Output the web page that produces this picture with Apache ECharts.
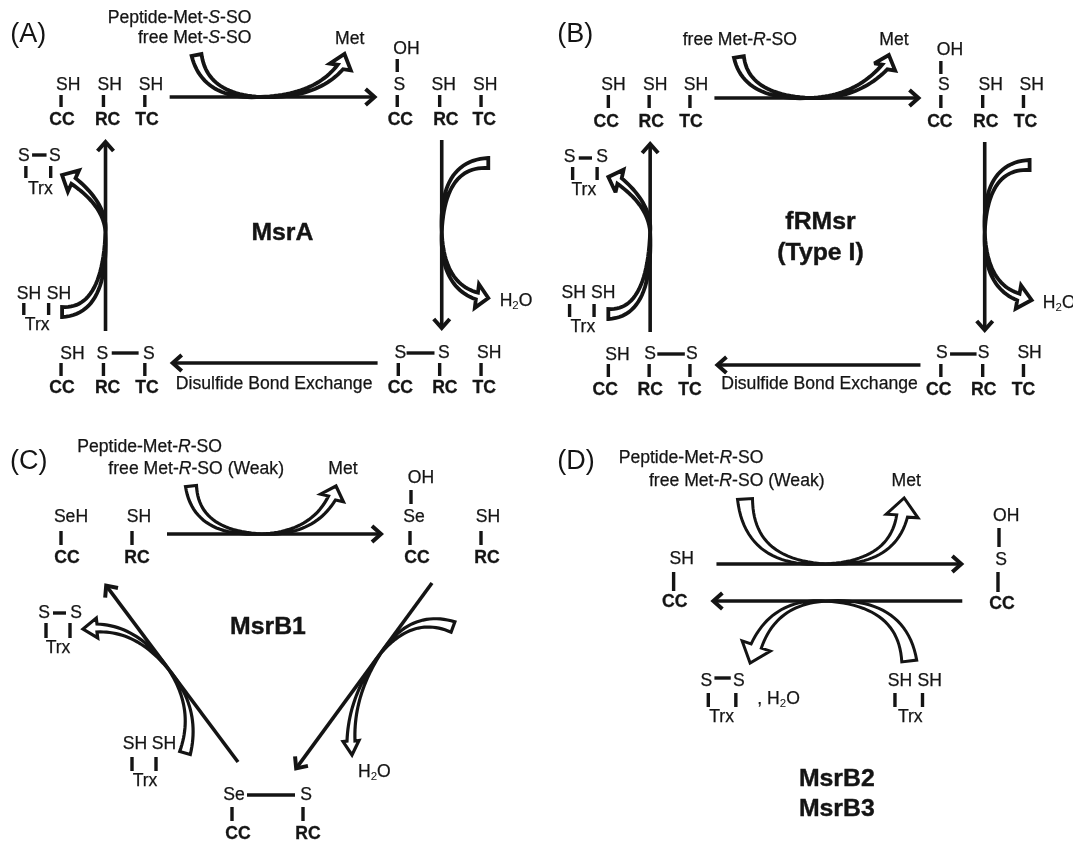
<!DOCTYPE html>
<html><head><meta charset="utf-8">
<style>html,body{margin:0;padding:0;background:#fff}#c{width:1073px;height:844px}</style>
<script src="https://cdn.jsdelivr.net/npm/echarts@6/dist/echarts.min.js"></script>
</head><body><div id="c"></div>
<script>
const H2O = '{r|H}{s|2}{r|O}';
// [x, y, text, kind, align]  kind: t regular, b bold, l large bold, p panel letter
const labelsA = [
 [10,35,'(A)','p','left'],[243,18,'Peptide-Met-{i|S}{r|-SO}','t','right'],[243,38,'free Met-{i|S}{r|-SO}','t','right'],[338,39,'Met','t'],
 [66,85,'SH','t'],[106,85,'SH','t'],[146,85,'SH','t'],[60,120,'CC','b'],[104,120,'RC','b'],[142,120,'TC','b'],
 [393,49,'OH','t'],[386,85,'S','t'],[429,85,'SH','t'],[469,85,'SH','t'],[387,120,'CC','b'],[431,120,'RC','b'],[468,120,'TC','b'],
 [23,156,'S','t'],[53,156,'S','t'],[39,189,'Trx','t'],[28,294,'SH','t'],[57,294,'SH','t'],[36,325,'Trx','t'],
 [483,301,H2O,'t','left'],[273,233,'MsrA','l'],
 [70,354,'SH','t'],[99,354,'S','t'],[144,354,'S','t'],[60,388,'CC','b'],[104,388,'RC','b'],[142,388,'TC','b'],
 [265,384,'Disulfide Bond Exchange','t'],
 [387,353,'S','t'],[429,353,'S','t'],[473,353,'SH','t'],[387,388,'CC','b'],[430,388,'RC','b'],[468,388,'TC','b']
];
const labelsB = [
 [557,35,'(B)','p','left'],[792,40,'free Met-{i|R}{r|-SO}','t','right'],[887,40,'Met','t'],
 [612,85,'SH','t'],[653,85,'SH','t'],[693,85,'SH','t'],[605,122,'CC','b'],[649,122,'RC','b'],[688,122,'TC','b'],
 [942,50,'OH','t'],[936,85,'S','t'],[982,85,'SH','t'],[1022,85,'SH','t'],[932,122,'CC','b'],[977,122,'RC','b'],[1016,122,'TC','b'],
 [569,157,'S','t'],[601,157,'S','t'],[583,190,'Trx','t'],[573,293,'SH','t'],[602,293,'SH','t'],[582,327,'Trx','t'],
 [1033,303,H2O,'t','left'],[815,222,'fRMsr','l'],[815,253,'(Type I)','l'],
 [616,355,'SH','t'],[648,354,'S','t'],[689,354,'S','t'],[604,390,'CC','b'],[648,390,'RC','b'],[687,390,'TC','b'],
 [814,384,'Disulfide Bond Exchange','t'],
 [934,353,'S','t'],[975,353,'S','t'],[1020,353,'SH','t'],[931,390,'CC','b'],[975,390,'RC','b'],[1014,390,'TC','b']
];
const labelsC = [
 [10,462,'(C)','p','left'],[222,447,'Peptide-Met-{i|R}{r|-SO}','t','right'],[284,469,'free Met-{i|R}{r|-SO (Weak)}','t','right'],[343,469,'Met','t'],
 [71,517,'SeH','t'],[139,517,'SH','t'],[67,558,'CC','b'],[137,558,'RC','b'],
 [421,478,'OH','t'],[414,517,'Se','t'],[488,517,'SH','t'],[417,558,'CC','b'],[487,558,'RC','b'],
 [44,613,'S','t'],[76,613,'S','t'],[58,648,'Trx','t'],[268,627,'MsrB1','l'],
 [135,744,'SH','t'],[164,744,'SH','t'],[145,781,'Trx','t'],[358,772,H2O,'t','left'],
 [234,795,'Se','t'],[306,795,'S','t'],[238,834,'CC','b'],[308,834,'RC','b']
];
const labelsD = [
 [557,462,'(D)','p','left'],[759,458,'Peptide-Met-{i|R}{r|-SO}','t','right'],[819,481,'free Met-{i|R}{r|-SO (Weak)}','t','right'],[899,481,'Met','t'],
 [679,559,'SH','t'],[672,602,'CC','b'],[997,516,'OH','t'],[992,560,'S','t'],[993,604,'CC','b'],
 [703,681,'S','t'],[735,681,'S','t'],[718,717,'Trx','t'],[753,699,', '+H2O,'t','left'],
 [893,681,'SH','t'],[922,681,'SH','t'],[903,717,'Trx','t'],
 [831,779,'MsrB2','l'],[831,809,'MsrB3','l']
];
// bonds: [x1, y1, x2, y2]
const bondsA = [
 [59,95,59,107],[100,95,100,107],[140,95,140,107],[384,59,384,72],[384,95,384,107],[425,95,425,107],[465,95,465,107],
 [31,155,45,155],[25,166,25,178],[49,166,49,178],[23,303,23,315],[47,303,47,315],
 [108,353,134,353],[59,363,59,376],[100,363,100,376],[140,363,140,376],
 [393,353,420,353],[385,363,385,376],[425,363,425,376],[465,363,465,376]
];
const bondsB = [
 [607,95,607,108],[647,95,647,108],[687,95,687,108],[933,61,933,74],[933,95,933,108],[974,95,974,108],[1014,95,1014,108],
 [578,158,591,158],[572,167,572,180],[596,167,596,180],[569,304,569,317],[593,304,593,317],
 [655,354,682,354],[607,364,607,377],[647,364,647,377],[687,364,687,377],
 [942,354,968,354],[933,364,933,377],[974,364,974,377],[1014,364,1014,377]
];
const bondsC = [
 [61,531,61,545],[132,531,132,545],[411,490,411,504],[410,531,410,545],[481,531,481,545],
 [53,613,66,613],[46,623,46,638],[70,623,70,638],[132,757,132,771],[156,757,156,771],
 [247,795,295,795],[232,807,232,821],[303,807,303,821]
];
const bondsD = [
 [671,572,671,591],[990,528,990,547],[989,572,989,592],
 [711,678,727,678],[705,693,705,707],[732,693,732,707],[888,693,888,707],[915,693,915,707]
];
// straight arrows: [x1, y1, x2, y2]
const arrowsA = [[164,97,364,97],[427,140,427,330],[365,363,165,363],[102,331,102,140]];
const arrowsB = [[711,98,913,98],[976,142,976,332],[913,365,712,365],[648,332,648,142]];
const arrowsC = [[167,534,383,534],[432,583,295,770],[238,762,105,584]];
const arrowsD = [[713,564,955,564],[954,601,708,601]];
// hollow arrows: [tailX,tailY, c1X,c1Y, midX,midY, c2X,c2Y, baseX,baseY, tipX,tipY, tailW, headW, barb, stroke]
const hollowA = [
 [190,55,198,97,252,97,305,97,329,67,333,54,10,7,11,3.8],
 [60,312,102,312,102,232,102,205,71,181,60,175,10,7,12,3.8],
 [472,163,427,163,427,232,427,285,461,296,472,298,10,7,12,3.8]
];
const hollowB = [
 [735,57,742,98,805,98,850,98,878,67,882,55,10,7,11,3.8],
 [607,314,648,314,648,232,648,205,618,181,607,177,10,7,12,3.8],
 [1020,165,976,165,976,232,976,285,1009,297,1022,300,10,7,12,3.8]
];
const hollowC = [
 [191,486,196,534,262,534,312,534,332,498,336,486,11,8,12,3.2],
 [185,753,198,709,169,670,138,628,97,628,83,629,11,8,10,3.2],
 [453,627,412,612,381,653,351,695,351,741,352,755,11,8,8,3.2]
];
const hollowD = [
 [741,499,745,564,820,564,885,564,895,516,897,498,15,11,16,3],
 [902,661,895,601,820,601,770,601,752,646,746,663,15,11,15,3]
];
// horizontal calibration of each panel's readings: [origin, factor]
const calA = [0,1.0345], calB = [540,1.02], calC = [0,1], calD = [540,1.02];

const cx = (c,x)=>c[0]+(x-c[0])*c[1];
const calLabels = (l,c)=>l.map(d=>{const r=d.slice();r[0]=cx(c,d[0]);return r;});
const calPairs  = (l,c,n)=>l.map(d=>d.map((v,i)=>(i<n&&i%2===0)?cx(c,v):v));

const INK = '#141414';
const allLabels = calLabels(labelsA,calA).concat(calLabels(labelsB,calB),calLabels(labelsC,calC),calLabels(labelsD,calD));
const allBonds = calPairs(bondsA,calA,4).concat(calPairs(bondsB,calB,4),calPairs(bondsC,calC,4),calPairs(bondsD,calD,4));
const arrowLines = calPairs(arrowsA,calA,4).concat(calPairs(arrowsB,calB,4),calPairs(arrowsC,calC,4),calPairs(arrowsD,calD,4));
const hollowArrows = calPairs(hollowA,calA,12).concat(calPairs(hollowB,calB,12),calPairs(hollowC,calC,12),calPairs(hollowD,calD,12));
const FONT = '"Liberation Sans", Arial, sans-serif';
const kinds = {
 t:{fontSize:17.6,fontWeight:400,ol:0.25}, b:{fontSize:17.6,fontWeight:700,ol:0.3},
 l:{fontSize:24.8,fontWeight:700,ol:0.4}, p:{fontSize:27,fontWeight:400,ol:0}
};
function quad(a,b,c,s){const u=1-s;return [u*u*a[0]+2*u*s*b[0]+s*s*c[0],u*u*a[1]+2*u*s*b[1]+s*s*c[1]];}
function quadN(a,b,c,s){const dx=2*(1-s)*(b[0]-a[0])+2*s*(c[0]-b[0]),dy=2*(1-s)*(b[1]-a[1])+2*s*(c[1]-b[1]),l=Math.hypot(dx,dy)||1;return [-dy/l,dx/l];}
function hollowShape(v,api){
  const pt=(i)=>api.coord([v[i],v[i+1]]);
  const T=pt(0),C1=pt(2),M=pt(4),C2=pt(6),B=pt(8),P=pt(10),tw=v[12],hw=v[13],hb=v[14];
  const L=[],R=[],N=24;
  for(let i=0;i<=N;i++){const s=i/N,q=quad(T,C1,M,s),n=quadN(T,C1,M,s),w=tw/2*Math.pow(1-s,0.9);
    L.push([q[0]+n[0]*w,q[1]+n[1]*w]);R.push([q[0]-n[0]*w,q[1]-n[1]*w]);}
  for(let i=1;i<=N;i++){const s=i/N,q=quad(M,C2,B,s),n=quadN(M,C2,B,s),w=hw/2*Math.pow(s,0.9);
    L.push([q[0]+n[0]*w,q[1]+n[1]*w]);R.push([q[0]-n[0]*w,q[1]-n[1]*w]);}
  const dx=P[0]-B[0],dy=P[1]-B[1],l=Math.hypot(dx,dy)||1,nx=-dy/l,ny=dx/l;
  return L.concat([[B[0]+nx*hb,B[1]+ny*hb],P,[B[0]-nx*hb,B[1]-ny*hb]],R.reverse());
}
const chart = echarts.init(document.getElementById('c'),null,{renderer:'canvas',width:1073,height:844});
chart.setOption({
 animation:false,backgroundColor:'#fff',
 grid:{left:0,right:0,top:0,bottom:0},
 xAxis:{type:'value',min:0,max:1073,show:false},
 yAxis:{type:'value',min:0,max:844,inverse:true,show:false},
 series:[
  {type:'custom',coordinateSystem:'cartesian2d',clip:false,silent:true,z:2,data:hollowArrows,encode:{x:0,y:1},
   renderItem(p,api){
     const h=hollowArrows[p.dataIndex];
     return {type:'polygon',shape:{points:hollowShape(h,api)},
       style:{fill:'#fff',stroke:INK,lineWidth:h[15],lineJoin:'miter',miterLimit:3}};
   }},
  {type:'custom',coordinateSystem:'cartesian2d',clip:false,silent:true,z:3,data:arrowLines,encode:{x:0,y:1},
   renderItem(p,api){
     const v=arrowLines[p.dataIndex],a=api.coord([v[0],v[1]]),b=api.coord([v[2],v[3]]);
     const l=Math.hypot(b[0]-a[0],b[1]-a[1]),ux=(b[0]-a[0])/l,uy=(b[1]-a[1])/l,nx=-uy,ny=ux,bk=11,hf=8;
     return {type:'group',children:[
       {type:'line',shape:{x1:a[0],y1:a[1],x2:b[0]-ux*2,y2:b[1]-uy*2},style:{stroke:INK,lineWidth:3.6}},
       {type:'polyline',shape:{points:[[b[0]-ux*bk+nx*hf,b[1]-uy*bk+ny*hf],[b[0]-ux*2,b[1]-uy*2],[b[0]-ux*bk-nx*hf,b[1]-uy*bk-ny*hf]]},
        style:{stroke:INK,fill:null,lineWidth:4,lineJoin:'miter'}}
     ]};
   }},
  {type:'custom',coordinateSystem:'cartesian2d',clip:false,silent:true,z:3,data:allBonds,encode:{x:0,y:1},
   renderItem(p,api){
     const v=allBonds[p.dataIndex],a=api.coord([v[0],v[1]]),b=api.coord([v[2],v[3]]);
     return {type:'line',shape:{x1:a[0],y1:a[1],x2:b[0],y2:b[1]},style:{stroke:INK,lineWidth:3.4}};
   }},
  {type:'custom',coordinateSystem:'cartesian2d',clip:false,silent:true,z:4,data:allLabels.map(d=>[d[0],d[1]]),encode:{x:0,y:1},
   renderItem(p,api){
     const d=allLabels[p.dataIndex],c=api.coord([d[0],d[1]]),k=kinds[d[3]];
     let txt=d[2];
     if(!txt.startsWith('{')){ const m=txt.indexOf('{'); txt = m<0 ? '{r|'+txt+'}' : '{r|'+txt.slice(0,m)+'}'+txt.slice(m); }
     const o={stroke:INK,lineWidth:k.ol};
     return {type:'text',x:c[0],y:c[1],style:{
       text:txt,align:d[4]||'center',verticalAlign:'middle',fill:INK,fontFamily:FONT,
       fontSize:k.fontSize,fontWeight:k.fontWeight,
       rich:{
        r:Object.assign({fontFamily:FONT,fontSize:k.fontSize,fontWeight:k.fontWeight,fill:INK},o),
        i:Object.assign({fontFamily:FONT,fontSize:k.fontSize,fontStyle:'italic',fill:INK},o),
        s:{fontFamily:FONT,fontSize:11.5,fill:INK,verticalAlign:'bottom',padding:[9,0,0,0]}
       }}};
   }}
 ]
});
</script></body></html>
